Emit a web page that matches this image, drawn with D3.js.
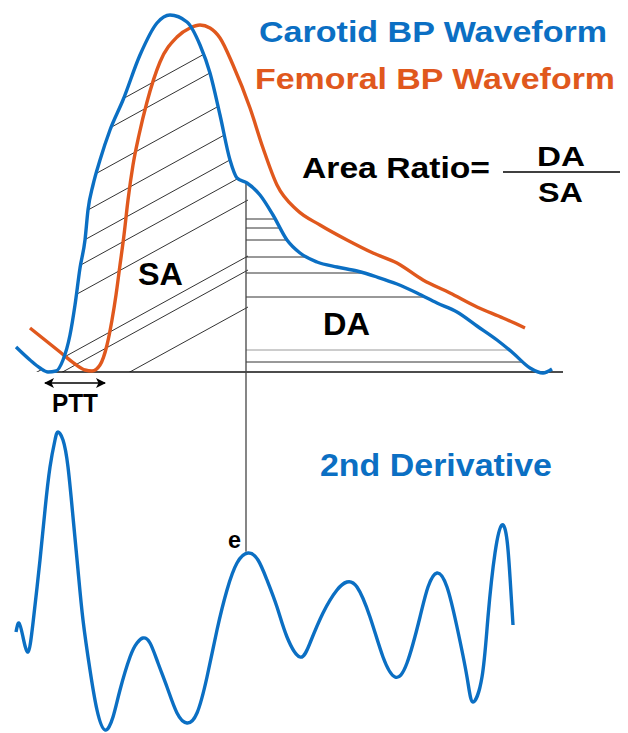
<!DOCTYPE html>
<html>
<head>
<meta charset="utf-8">
<script src="https://cdn.jsdelivr.net/npm/d3@7"></script>
<style>
  html, body { margin: 0; padding: 0; background: #fff; }
  svg { display: block; }
  text { font-family: "Liberation Sans", Arial, sans-serif; font-weight: bold; }
</style>
</head>
<body>
<svg id="chart" width="628" height="733"></svg>
<script>
// ---- data (time in ms-like units, pressure / derivative in arbitrary units) ----
const carotidT = [0,14,24,32,40,47,54,59,64,69,72,77,84,94,107,124,141,154,171,184,194,204,214,221,231,244,257,271,284,301,321,341,361,381,401,421,441,461,481,497,514,527,536];
const carotidP = [25,12,4,0,1,12,37,67,104,132,162,187,212,242,272,317,349,357,350,327,299,257,212,194,189,177,157,132,119,110,105,101,95,88,79,69,60,46,32,19,4,-1,3];

const femoralT = [14,29,44,59,69,76,84,91,96,100,104,108,112,117,123,131,144,161,174,184,194,204,217,234,247,261,281,304,331,357,381,407,434,461,487,509];
const femoralP = [44,32,20,8,2,1,7,27,52,77,107,137,172,207,237,270,310,335,344,347,344,334,307,264,224,187,162,147,132,119,109,92,79,65,54,44];

const derivT = [0,3,7,12,17,24,29,34,39,42,47,52,57,62,67,74,81,89,97,104,114,121,127,134,142,151,161,171,181,191,201,211,221,232,242,251,261,271,284,294,307,321,331,341,354,367,379,391,404,412,421,431,441,451,457,466,472,479,486,491,494,497];
const derivV = [8,17,3,-12,17,80,130,173,200,208,200,173,123,70,20,-30,-70,-90,-77,-50,-17,-3,2,-3,-23,-47,-73,-83,-73,-37,10,50,77,87,80,60,33,3,-17,-3,27,50,58,53,23,-17,-37,-23,23,53,67,53,13,-37,-62,-37,23,87,115,100,63,15];

// hatch lines: pressure where each diagonal line meets the dicrotic notch time
const diagHatch = [342,320,282,250,222,199,172,116,102,65];
const horizHatch = [153,144,132,115,99,75,22,10];
const notchTime = 230;           // time of the dicrotic notch / "e" wave
const pttSpan = [29, 89];        // PTT arrow extent
const baselineSpan = [32, 547];

const labels = {
  carotid: "Carotid BP Waveform",
  femoral: "Femoral BP Waveform",
  ratio: "Area Ratio=",
  num: "DA", den: "SA",
  sa: "SA", da: "DA", ptt: "PTT",
  deriv: "2nd Derivative", e: "e"
};

const BLUE = "#0b6fc3", ORANGE = "#e0581d";

// ---- scales ----
const x = d3.scaleLinear().domain([0, 550]).range([16, 566]);
const yP = d3.scaleLinear().domain([0, 357]).range([372, 15]);
const yD = d3.scaleLinear().domain([-100, 220]).range([740, 420]);

const svg = d3.select("#chart");
svg.append("rect").attr("width", 628).attr("height", 733).attr("fill", "#fff");

const carotid = carotidT.map((t, i) => [t, carotidP[i]]);
const femoral = femoralT.map((t, i) => [t, femoralP[i]]);
const deriv = derivT.map((t, i) => [t, derivV[i]]);

const curve = d3.curveMonotoneX;
const lineP = d3.line().x(d => x(d[0])).y(d => yP(d[1])).curve(curve);
const lineD = d3.line().x(d => x(d[0])).y(d => yD(d[1])).curve(d3.curveNatural);
const areaP = d3.area().x(d => x(d[0])).y0(yP(0)).y1(d => yP(d[1])).curve(curve);

function interp(arr, t) {
  for (let i = 1; i < arr.length; i++) {
    if (arr[i][0] >= t) {
      const a = arr[i - 1], b = arr[i];
      return a[1] + (b[1] - a[1]) * (t - a[0]) / (b[0] - a[0]);
    }
  }
  return arr[arr.length - 1][1];
}

// ---- clip paths ----
const defs = svg.append("defs");
defs.append("clipPath").attr("id", "underCarotid")
  .append("path").attr("d", areaP(carotid));
defs.append("clipPath").attr("id", "leftOfNotch")
  .append("rect").attr("x", 0).attr("y", 0)
  .attr("width", x(notchTime + 2)).attr("height", yP(0));
defs.append("clipPath").attr("id", "rightOfNotch")
  .append("rect").attr("x", x(notchTime)).attr("y", 0)
  .attr("width", 628).attr("height", yP(0));

const mk = defs.append("marker").attr("id", "arrow")
  .attr("viewBox", "0 0 10 10").attr("refX", 9).attr("refY", 5)
  .attr("markerWidth", 11).attr("markerHeight", 10)
  .attr("markerUnits", "userSpaceOnUse")
  .attr("orient", "auto-start-reverse");
mk.append("path").attr("d", "M0,0 L10,5 L0,10 L2.5,5 Z").attr("fill", "#000");

// ---- hatching ----
const slope = 0.55;
const gSA = svg.append("g").attr("clip-path", "url(#leftOfNotch)")
  .append("g").attr("clip-path", "url(#underCarotid)");
gSA.selectAll("line").data(diagHatch).join("line")
  .attr("x1", x(0)).attr("y1", p => yP(p - slope * (notchTime + 2)))
  .attr("x2", x(notchTime + 2)).attr("y2", p => yP(p))
  .attr("stroke", "#333").attr("stroke-width", 1);

const gDA = svg.append("g").attr("clip-path", "url(#rightOfNotch)")
  .append("g").attr("clip-path", "url(#underCarotid)");
gDA.selectAll("line").data(horizHatch).join("line")
  .attr("x1", x(notchTime)).attr("x2", x(550))
  .attr("y1", p => yP(p)).attr("y2", p => yP(p))
  .attr("stroke", (p, i) => i === horizHatch.length - 2 ? "#9a9a9a" : "#333")
  .attr("stroke-width", 1);

// ---- baseline & notch line ----
svg.append("line")
  .attr("x1", x(baselineSpan[0])).attr("x2", x(baselineSpan[1]))
  .attr("y1", yP(0)).attr("y2", yP(0))
  .attr("stroke", "#111").attr("stroke-width", 1.6);

const eVal = interp(deriv, notchTime);
svg.append("line")
  .attr("x1", x(notchTime)).attr("x2", x(notchTime))
  .attr("y1", yP(interp(carotid, notchTime)) - 1).attr("y2", yD(eVal) - 3)
  .attr("stroke", "#444").attr("stroke-width", 1.3);

// ---- waveforms ----
svg.append("path").attr("d", lineP(femoral))
  .attr("fill", "none").attr("stroke", ORANGE).attr("stroke-width", 3.4);
svg.append("path").attr("d", lineP(carotid))
  .attr("fill", "none").attr("stroke", BLUE).attr("stroke-width", 3.4);
svg.append("path").attr("d", lineD(deriv))
  .attr("fill", "none").attr("stroke", BLUE).attr("stroke-width", 3.4);

// ---- PTT arrow ----
svg.append("line")
  .attr("x1", x(pttSpan[0])).attr("x2", x(pttSpan[1]))
  .attr("y1", yP(-11)).attr("y2", yP(-11))
  .attr("stroke", "#000").attr("stroke-width", 1.6)
  .attr("marker-start", "url(#arrow)").attr("marker-end", "url(#arrow)");

// ---- text ----
function txt(s, px, py, size, len, fill) {
  const t = svg.append("text").attr("x", px).attr("y", py)
    .attr("font-size", size).attr("fill", fill || "#000").text(s);
  if (len) t.attr("textLength", len).attr("lengthAdjust", "spacingAndGlyphs");
  return t;
}
txt(labels.carotid, 259, 42, 30, 348, BLUE);
txt(labels.femoral, 255, 89, 30, 360, ORANGE);
txt(labels.ratio, 302, 178, 30, 188);
txt(labels.num, 537, 166, 27, 48);
txt(labels.den, 538, 202, 28, 45);
svg.append("line").attr("x1", 503).attr("x2", 620).attr("y1", 172).attr("y2", 172)
  .attr("stroke", "#000").attr("stroke-width", 1.6);
txt(labels.sa, 138, 285, 31, 45);
txt(labels.da, 323, 335, 31, 47);
txt(labels.ptt, 52, 412, 25, 46);
txt(labels.deriv, 320, 476, 31, 232, BLUE);
txt(labels.e, 228, 548, 24, 13);
</script>
</body>
</html>
